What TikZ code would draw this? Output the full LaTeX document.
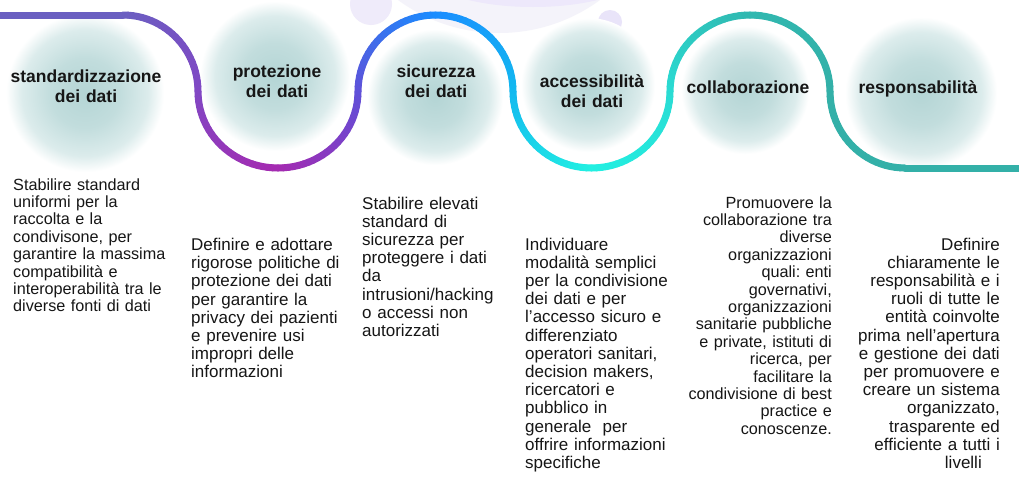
\documentclass[tikz,border=0pt]{standalone}
\usepackage{fontspec}
\setmainfont{Liberation Sans}
\frenchspacing
\definecolor{wA}{HTML}{6A5FC1}
\definecolor{wB}{HTML}{8048C4}
\definecolor{wC}{HTML}{A52AB0}
\definecolor{wD}{HTML}{6050D8}
\definecolor{wE}{HTML}{1A8CFF}
\definecolor{wF}{HTML}{12B8F0}
\definecolor{wG}{HTML}{22F0E2}
\definecolor{wH}{HTML}{2ADCD4}
\definecolor{wI}{HTML}{30B8B0}
\definecolor{wJ}{HTML}{33B0A8}
\definecolor{dcA}{HTML}{B4D5D5}
\definecolor{dcB}{HTML}{C2DDDD}
\definecolor{dcC}{HTML}{DCECEC}
\definecolor{lavA}{HTML}{F4F3FA}
\definecolor{lavB}{HTML}{EDE8FB}
\definecolor{lavC}{HTML}{EFEBFA}
\definecolor{lavD}{HTML}{E9E4F9}
\definecolor{txt}{HTML}{161616}
\pgfdeclareradialshading{dotglow}{\pgfpoint{0bp}{0bp}}{color(0bp)=(dcA); color(11bp)=(dcB); color(20bp)=(dcC); color(25bp)=(white); color(50bp)=(white)}
\newcommand\wseg[8]{%
  \foreach \i in {1,...,24}{%
    \pgfmathsetmacro\ta{#5+(#6-(#5))*(\i-1)/24}%
    \pgfmathsetmacro\tb{#5+(#6-(#5))*\i/24}%
    \pgfmathtruncatemacro\pc{100*(\i-0.5)/24}%
    \colorlet{segc}{#8!\pc!#7}%
    \draw[wave, draw=segc] ({#1+#3*cos(\ta)},{#2+#4*sin(\ta)}) -- ({#1+#3*cos(\tb)},{#2+#4*sin(\tb)});
  }%
}
\tikzset{
  wave/.style={line width=7pt, line cap=round},
  title/.style={font=\bfseries\fontsize{17.5}{20}\selectfont, text width=220pt, align=center, anchor=base, inner sep=0pt, text=txt},
  bodyL/.style={text width=190pt, align=left, anchor=base west, inner sep=0pt, text=txt},
  bodyR/.style={text width=190pt, align=right, anchor=base east, inner sep=0pt, text=txt},
  fsA/.style={font=\fontsize{16.2}{17.4}\selectfont},
  fsB/.style={font=\fontsize{17}{18.2}\selectfont},
}
\begin{document}
\begin{tikzpicture}[x=1pt,y=-1pt]
\useasboundingbox (0,0) rectangle (1019,477);
\fill[white] (0,0) rectangle (1019,477);
\clip (0,0) rectangle (1019,477);
% faint decorations at the top
\fill[lavA] (499,-138) circle (171);
\fill[lavB] (533,-30) ellipse [x radius=110, y radius=37];
\fill[lavC] (371,4) circle (21);
\fill[lavD] (610,22) circle (12);
% halftone circles
\shade[shading=dotglow] (85,93) circle (79);
\shade[shading=dotglow] (275,76) circle (75);
\shade[shading=dotglow] (435,97) circle (68);
\shade[shading=dotglow] (588,85) circle (67);
\shade[shading=dotglow] (745,90) circle (64);
\shade[shading=dotglow] (921,93) circle (76);
% wave
\draw[wave, draw=wA] (-5,15) -- (123,15);
\wseg{123}{91.5}{75}{76.5}{-90}{0}{wA}{wB}
\wseg{278}{91.5}{80}{76.5}{180}{90}{wB}{wC}
\wseg{278}{91.5}{80}{76.5}{90}{0}{wC}{wD}
\wseg{435.5}{91.5}{77.5}{76.5}{180}{270}{wD}{wE}
\wseg{435.5}{91.5}{77.5}{76.5}{270}{360}{wE}{wF}
\wseg{591.5}{91.5}{78.5}{76.5}{180}{90}{wF}{wG}
\wseg{591.5}{91.5}{78.5}{76.5}{90}{0}{wG}{wH}
\wseg{750}{91.5}{80}{76.5}{180}{270}{wH}{wI}
\wseg{750}{91.5}{80}{76.5}{270}{360}{wI}{wJ}
\wseg{905}{91.5}{75}{76.5}{180}{90}{wJ}{wJ}
\draw[wave, draw=wJ] (905,168) -- (1025,168);
% titles
\node[title] (t1) at (86,82) {standardizzazione\\dei dati};
\node[title] (t2) at (277,77) {protezione\\dei dati};
\node[title] (t3) at (436,77) {sicurezza\\dei dati};
\node[title] (t4) at (592,87) {accessibilità\\dei dati};
\node[title] (t5) at (748,93) {collaborazione};
\node[title] (t6) at (918,93) {responsabilità};
% descriptions
\node[bodyL, fsA] (d1) at (13,190) {Stabilire standard\\uniformi per la\\raccolta e la\\condivisone, per\\garantire la massima\\compatibilità e\\interoperabilità tra le\\diverse fonti di dati};
\node[bodyL, fsB] (d2) at (191,250.5) {Definire e adottare\\rigorose politiche di\\protezione dei dati\\per garantire la\\privacy dei pazienti\\e prevenire usi\\impropri delle\\informazioni};
\node[bodyL, fsB] (d3) at (362,209) {Stabilire elevati\\standard di\\sicurezza per\\proteggere i dati\\da\\intrusioni/hacking\\o accessi non\\autorizzati};
\node[bodyL, fsB] (d4) at (525,250) {Individuare\\modalità semplici\\per la condivisione\\dei dati e per\\l’accesso sicuro e\\differenziato\\operatori sanitari,\\decision makers,\\ricercatori e\\pubblico in\\generale~~per\\offrire informazioni\\specifiche};
\node[bodyR, fsA] (d5) at (832,208) {Promuovere la\\collaborazione tra\\diverse\\organizzazioni\\quali: enti\\governativi,\\organizzazioni\\sanitarie pubbliche\\e private, istituti di\\ricerca, per\\facilitare la\\condivisione di best\\practice e\\conoscenze.};
\node[bodyR, fsB] (d6) at (1000,250) {Definire\\chiaramente le\\responsabilità e i\\ruoli di tutte le\\entità coinvolte\\prima nell’apertura\\e gestione dei dati\\per promuovere e\\creare un sistema\\organizzato,\\trasparente ed\\efficiente a tutti i\\livelli\kern18pt};
\end{tikzpicture}
\end{document}
